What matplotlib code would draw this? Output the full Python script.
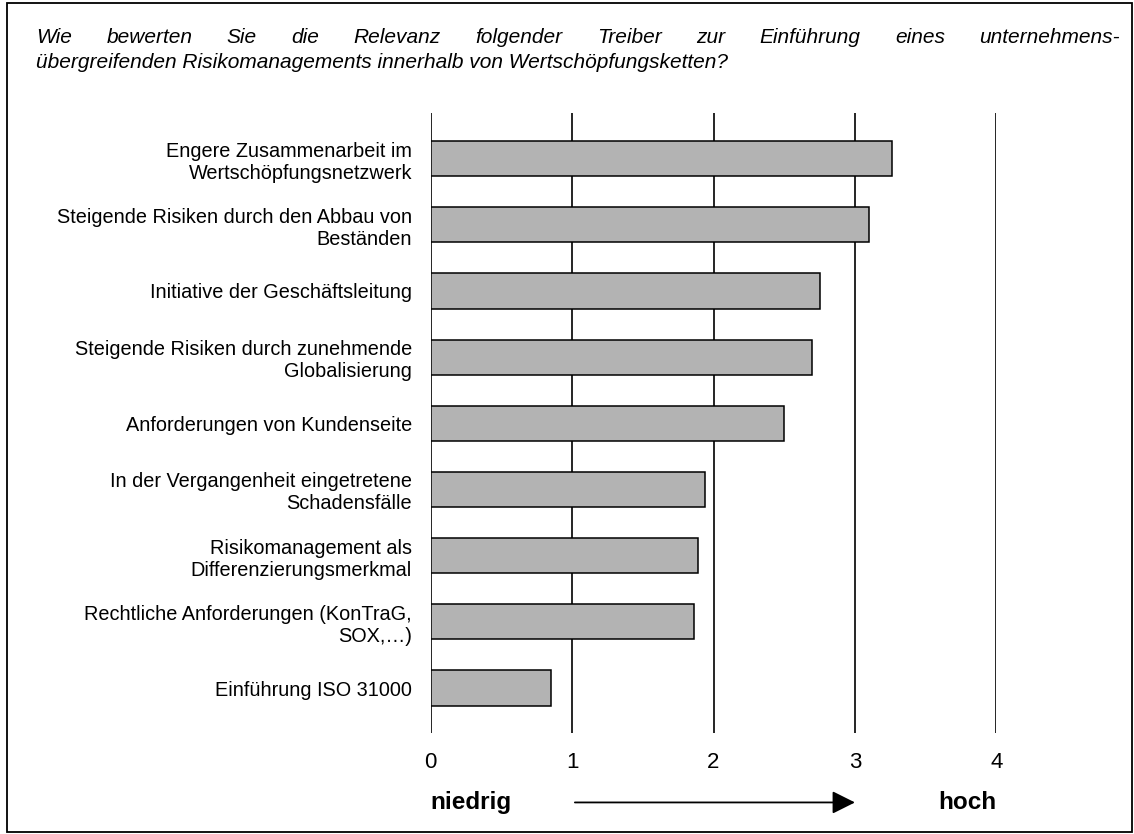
import matplotlib
matplotlib.use("Agg")
import matplotlib.pyplot as plt
from matplotlib.patches import Rectangle, FancyArrowPatch

categories = [
    "Engere Zusammenarbeit im\nWertschöpfungsnetzwerk",
    "Steigende Risiken durch den Abbau von\nBeständen",
    "Initiative der Geschäftsleitung",
    "Steigende Risiken durch zunehmende\nGlobalisierung",
    "Anforderungen von Kundenseite",
    "In der Vergangenheit eingetretene\nSchadensfälle",
    "Risikomanagement als\nDifferenzierungsmerkmal",
    "Rechtliche Anforderungen (KonTraG,\nSOX,…)",
    "Einführung ISO 31000",
]
values = [3.26, 3.10, 2.75, 2.70, 2.50, 1.94, 1.89, 1.86, 0.85]
x_ticks = [0, 1, 2, 3, 4]

title_line1 = "Wie bewerten Sie die Relevanz folgender Treiber zur Einführung eines unternehmens-"
title_line2 = "übergreifenden Risikomanagements innerhalb von Wertschöpfungsketten?"

plt.rcParams["font.family"] = ["Liberation Sans", "DejaVu Sans"]

W, H = 1134, 834
fig = plt.figure(figsize=(W / 100, H / 100), dpi=100)

# frame round the whole picture
fig.patches.append(Rectangle((7 / W, 2 / H), 1125 / W, 829 / H, transform=fig.transFigure,
                             fill=False, edgecolor="black", linewidth=1.3))

ax = fig.add_axes([430.7 / W, 1 - 733 / H, 565.6 / W, 620 / H])
y = range(len(categories))
ax.barh(y, values, height=0.53, color="#b3b3b3", edgecolor="black", linewidth=1.1, zorder=3)
ax.set_xlim(0, 4)
ax.set_ylim(len(categories) - 1 + 0.68, -0.69)
for s in ax.spines.values():
    s.set_visible(False)
for xv in x_ticks:
    ax.axvline(xv, color="black", linewidth=1.2, zorder=1)
ax.set_yticks(list(y))
ax.set_yticklabels(categories, fontsize=14.3, linespacing=1.2)
ax.tick_params(axis="y", length=0, pad=13.5)
ax.set_xticks(x_ticks)
ax.set_xticklabels([str(v) for v in x_ticks], fontsize=16)
ax.tick_params(axis="x", length=0, pad=14)

# scale annotation below the axis
trans = ax.get_xaxis_transform()
ax.text(0, -0.112, "niedrig", transform=trans, fontsize=17.5, fontweight="bold",
        ha="left", va="center", clip_on=False)
ax.text(4, -0.112, "hoch", transform=trans, fontsize=17.5, fontweight="bold",
        ha="right", va="center", clip_on=False)
arrow = FancyArrowPatch((1, -0.112), (3.02, -0.112), transform=trans,
                        arrowstyle="-|>,head_length=1.0,head_width=0.5",
                        mutation_scale=14, color="black", linewidth=1.3, clip_on=False)
ax.add_patch(arrow)

# justified first title line, words placed on a common baseline
x_left, x_right = 36 / W, 1120 / W
y1, y2 = 1 - 43 / H, 1 - 68 / H
words = title_line1.split(" ")
texts = [fig.text(x_left, y1, w, fontsize=15, style="italic", va="baseline", ha="left")
         for w in words]
fig.canvas.draw()
renderer = fig.canvas.get_renderer()
widths = [t.get_window_extent(renderer).width / W for t in texts]
gap = (x_right - x_left - sum(widths)) / (len(words) - 1)
pos = x_left
for t, w in zip(texts, widths):
    t.set_x(pos)
    pos += w + gap
fig.text(x_left, y2, title_line2, fontsize=15, style="italic", va="baseline", ha="left")

fig.savefig("out.png", dpi=100)
